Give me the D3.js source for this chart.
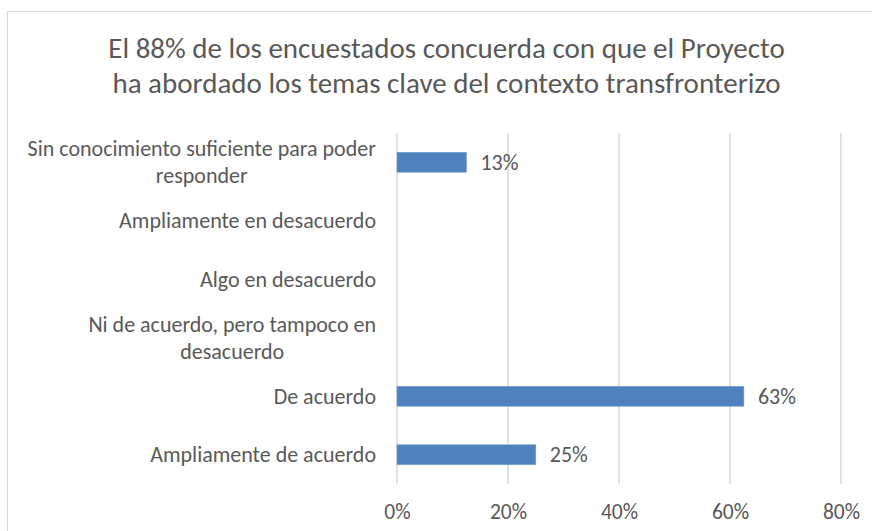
<!DOCTYPE html>
<html><head><meta charset="utf-8">
<script src="https://cdn.jsdelivr.net/npm/d3@7"></script>
<style>body{margin:0;background:#fff}svg{display:block}</style>
</head><body>
<svg id="c" width="872" height="531"></svg>
<script>
const titleLines = ["El 88% de los encuestados concuerda con que el Proyecto", "ha abordado los temas clave del contexto transfronterizo"];
const categories = [
  ["Sin conocimiento suficiente para poder", "responder"],
  ["Ampliamente en desacuerdo"],
  ["Algo en desacuerdo"],
  ["Ni de acuerdo, pero tampoco en", "desacuerdo"],
  ["De acuerdo"],
  ["Ampliamente de acuerdo"]
];
const values = [0.125, 0, 0, 0, 0.625, 0.25];
const valueLabels = ["13%", "", "", "", "63%", "25%"];
const xTicks = [0, 0.2, 0.4, 0.6, 0.8];

const FONT = "Carlito, Calibri, Lato, 'Open Sans', sans-serif";
const svg = d3.select("#c");
const gray = "#595959";

svg.append("rect").attr("x", 7.5).attr("y", 11.5).attr("width", 900).attr("height", 600)
  .attr("fill", "#fff").attr("stroke", "#d9d9d9").attr("stroke-width", 1);

const ids = categories.map((c, i) => i);
const x = d3.scaleLinear().domain([0, 0.8]).range([397, 841]);
const y = d3.scaleBand().domain(ids).range([133, 484]).paddingInner(0.66).paddingOuter(0.33);

// title
const tt = svg.append("text").attr("font-family", FONT).attr("font-size", 29).attr("fill", gray).attr("text-anchor", "middle");
titleLines.forEach((l, i) => tt.append("tspan").attr("x", 446.5).attr("y", 58 + i * 35).text(l));

// gridlines
svg.append("g").selectAll("line").data(xTicks).join("line")
  .attr("x1", d => x(d)).attr("x2", d => x(d)).attr("y1", 133).attr("y2", 484)
  .attr("stroke", "#d9d9d9").attr("stroke-width", 1.5);

// x axis labels
const xa = svg.append("g").attr("transform", "translate(0,484)")
  .call(d3.axisBottom(x).tickValues(xTicks).tickFormat(d3.format(".0%")).tickSize(0).tickPadding(20));
xa.select(".domain").remove();
xa.selectAll("text").attr("font-family", FONT).attr("font-size", 21.5).attr("fill", gray);

// bars
svg.append("g").selectAll("rect").data(ids.filter(i => values[i] > 0)).join("rect")
  .attr("x", x(0)).attr("y", i => y(i)).attr("width", i => x(values[i]) - x(0)).attr("height", y.bandwidth())
  .attr("fill", "#4f81bd").attr("stroke", "#6f9bd0").attr("stroke-width", 0.6);

// value labels
svg.append("g").selectAll("text").data(ids.filter(i => valueLabels[i])).join("text")
  .attr("x", i => x(values[i]) + 14).attr("y", i => y(i) + y.bandwidth() / 2).attr("dy", "0.35em")
  .attr("font-family", FONT).attr("font-size", 22).attr("fill", gray).text(i => valueLabels[i]);

// category labels
const cg = svg.append("g");
ids.forEach(i => {
  const lines = categories[i];
  const cy = y(i) + y.bandwidth() / 2;
  const lh = 27;
  const t = cg.append("text").attr("font-family", FONT).attr("font-size", 22).attr("fill", gray).attr("text-anchor", "middle");
  lines.forEach((l, k) => t.append("tspan").attr("x", 0).attr("y", cy + (k - (lines.length - 1) / 2) * lh).attr("dy", "0.35em").text(l));
  const w = t.node().getBBox().width;
  t.attr("transform", `translate(${376 - w / 2},0)`);
});
</script>
</body></html>
